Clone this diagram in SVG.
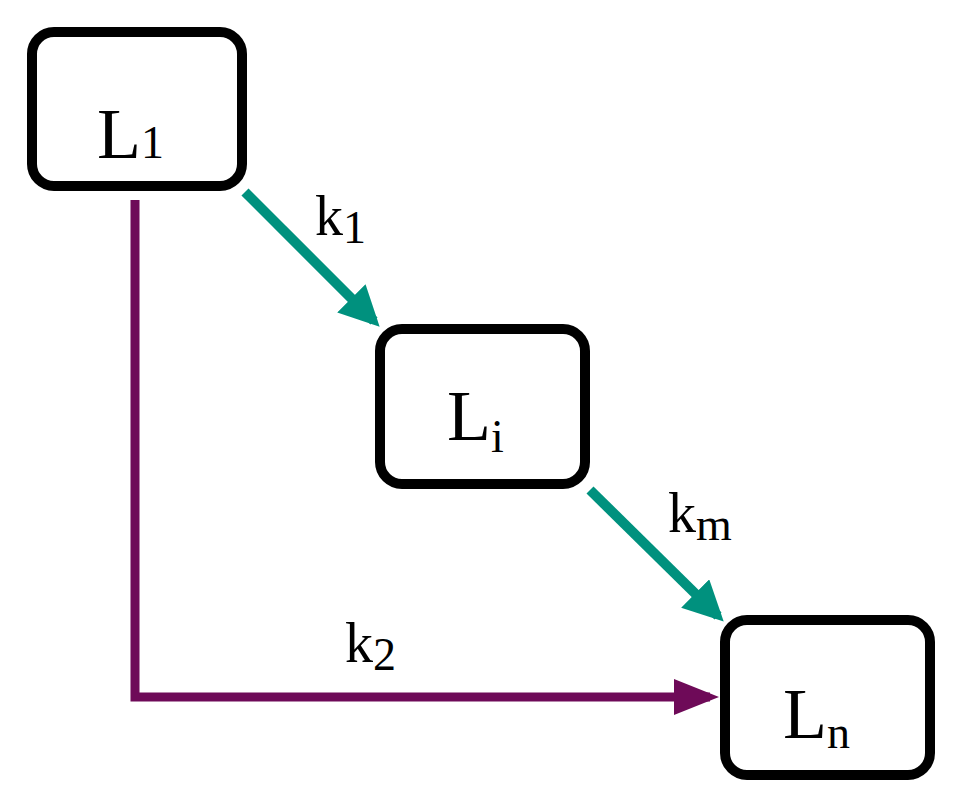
<svg xmlns="http://www.w3.org/2000/svg" width="962" height="804" viewBox="0 0 962 804">
<defs>
<style>
.box{fill:#fff;stroke:#000;stroke-width:10}
.t{font-family:"Liberation Serif",serif;font-size:72px;fill:#000}
.s{font-size:46px}
.k{font-family:"Liberation Serif",serif;font-size:56px;fill:#000}
</style>
<marker id="ag" markerWidth="4" markerHeight="4" refX="3.2" refY="2" orient="auto" markerUnits="strokeWidth"><path d="M0,0L4,2L0,4Z" fill="#00917e"/></marker>
<marker id="ap" markerWidth="5" markerHeight="4" refX="4" refY="2" orient="auto" markerUnits="strokeWidth"><path d="M0,0L5,2L0,4Z" fill="#6e0a58"/></marker>
</defs>
<g id="connectors">
<line x1="245" y1="192" x2="374" y2="321" stroke="#00917e" stroke-width="10" marker-end="url(#ag)"/>
<line x1="590" y1="490" x2="718" y2="616" stroke="#00917e" stroke-width="10" marker-end="url(#ag)"/>
<polyline points="135,200 135,697 710,697" fill="none" stroke="#6e0a58" stroke-width="9" marker-end="url(#ap)"/>
<text class="k" x="315" y="235">k<tspan class="s" dy="8">1</tspan></text>
<text class="k" x="668" y="532">k<tspan class="s" dy="8">m</tspan></text>
<text class="k" x="345" y="662">k<tspan class="s" dy="8">2</tspan></text>
</g>
<g id="L1"><rect class="box" x="32" y="32" width="210" height="154" rx="22"/><text class="t" x="97" y="158">L<tspan class="s" dy="0">1</tspan></text></g>
<g id="Li"><rect class="box" x="380" y="329" width="205" height="155" rx="22"/><text class="t" x="447" y="440">L<tspan class="s" dy="12">i</tspan></text></g>
<g id="Ln"><rect class="box" x="725" y="620" width="205" height="155" rx="22"/><text class="t" x="783" y="738">L<tspan class="s" dy="10">n</tspan></text></g>
</svg>
